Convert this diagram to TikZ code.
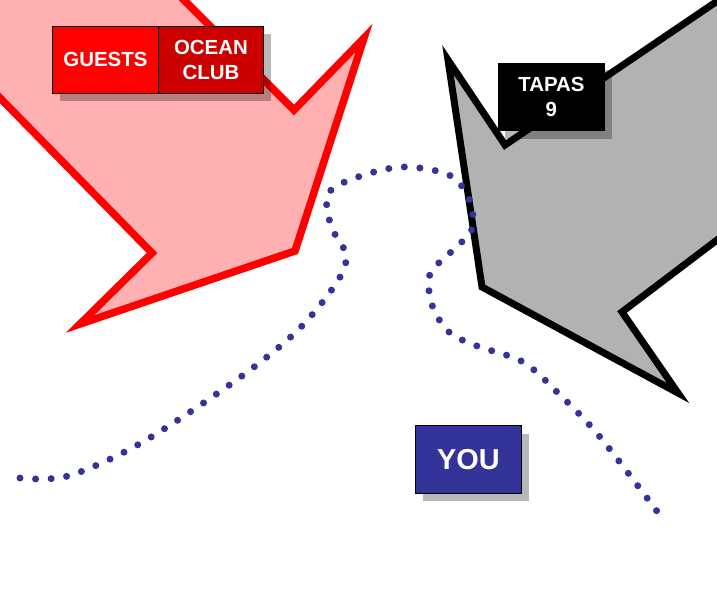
\documentclass[tikz,border=0pt]{standalone}
\usepackage{fontspec}
\setmainfont{Liberation Sans}
\definecolor{pinkfill}{RGB}{255,176,176}
\definecolor{darkred}{RGB}{204,0,0}
\definecolor{greyfill}{RGB}{178,178,178}
\definecolor{navy}{RGB}{51,51,153}
\begin{document}
\begin{tikzpicture}[x=1bp,y=-1bp,
  lbl/.style={draw=black,line width=0.8bp,text=white,font=\bfseries\fontsize{20.5}{25}\selectfont,
    align=center,inner sep=0pt,minimum width=106bp,minimum height=67bp,anchor=north west},
  shadowbox/.style={fill=black,fill opacity=0.28,draw=none},
  bigarrow/.style={line width=7.5bp,miter limit=20},
  dotline/.style={navy,line width=7bp,line cap=round,dash pattern=on 0bp off 15.6bp}]
\useasboundingbox (0,0) rectangle (717,615);
\begin{scope}
\clip (0,0) rectangle (717,615);
% red arrow
\draw[bigarrow,draw=red,fill=pinkfill] (94,-90) -- (294,110) -- (364,38) -- (295,251) -- (80,324) -- (152,253) -- (-200,-106) -- cycle;
% grey arrow
\draw[bigarrow,draw=black,fill=greyfill,line width=7bp] (800,-55) -- (505,145) -- (448,60) -- (482,287) -- (678,393) -- (622,312) -- (820,162) -- cycle;
\end{scope}
% guests / ocean club
\fill[shadowbox] (60,34) rectangle (271,101);
\node[lbl,fill=red] (guests) at (52,26) {GUESTS};
\node[lbl,fill=darkred,minimum width=105bp] (ocean) at (158,26) {OCEAN\\CLUB};
% tapas
\fill[shadowbox] (505,70) rectangle (612,139);
\node[lbl,fill=black] (tapas) at (498,63) {TAPAS\\9};
% dotted path
\draw[dotline] plot[smooth,tension=0.55] coordinates {(20,478) (68,476) (141,443) (235,381) (297,331) (337,282) (346,255) (331,226) (328,194) (355,178) (402,167) (449,175) (469,199) (472,229) (451,252) (430,274) (432,305) (449,332) (477,346) (523,362) (558,393) (600,437) (662,518)};
% you
\fill[shadowbox] (423,434) rectangle (529,501);
\node[lbl,fill=navy,minimum width=106bp,minimum height=68bp,font=\bfseries\fontsize{29}{34}\selectfont] (you) at (415,425) {YOU};
\end{tikzpicture}
\end{document}
